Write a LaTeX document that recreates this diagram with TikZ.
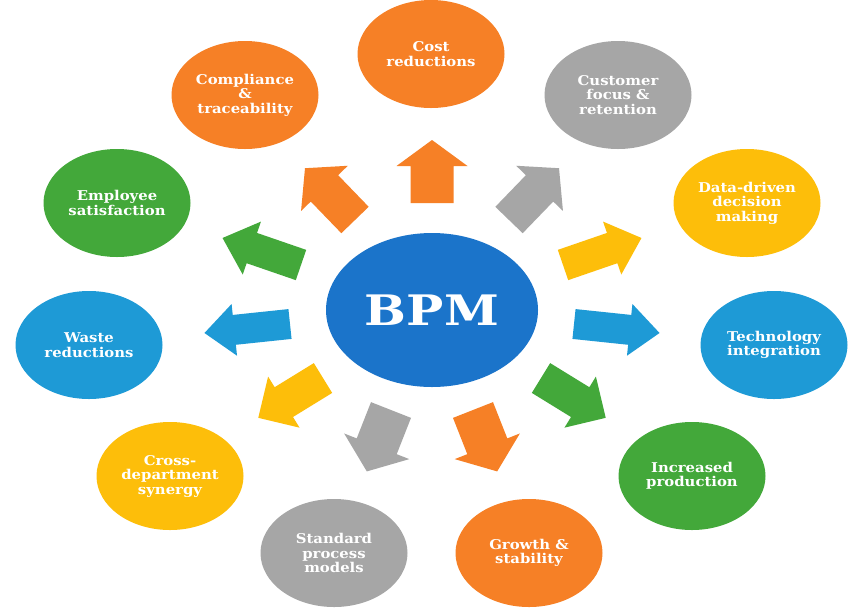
\documentclass[tikz,border=0pt]{standalone}
\usepackage{fontspec}
\setmainfont{DejaVu Serif}
\newfontfamily\bubfont[FakeStretch=1.1]{DejaVu Serif}
\newfontfamily\bpmfont[FakeStretch=1.18]{DejaVu Serif}
\usetikzlibrary{shapes.geometric}
\definecolor{corange}{RGB}{246,128,38}
\definecolor{cgray}{RGB}{166,166,166}
\definecolor{cyellow}{RGB}{253,190,10}
\definecolor{cgreen}{RGB}{67,168,58}
\definecolor{cblue}{RGB}{30,154,214}
\definecolor{cbpm}{RGB}{27,116,202}
\newcommand\blockarr[8]{% color, x, y, angle, length, shaft, headw, headlen
  \fill[#1, shift={(#2,#3)}, rotate=#4]
    (0,{-#6/2}) -- ({#5-#8},{-#6/2}) -- ({#5-#8},{-#7/2}) -- (#5,0)
    -- ({#5-#8},{#7/2}) -- ({#5-#8},{#6/2}) -- (0,{#6/2}) -- cycle;}
\tikzset{
  bub/.style={ellipse, fill=#1, minimum width=147pt, minimum height=108pt,
    inner sep=0pt, text=white, align=center,
    font=\bubfont\bfseries\fontsize{13.5}{14.5}\selectfont},
}
\begin{document}
\begin{tikzpicture}[x=1pt,y=-1pt]
\useasboundingbox (0,0) rectangle (850,611);
\fill[white] (0,0) rectangle (850,611);
% center
\node[ellipse, fill=cbpm, minimum width=212pt, minimum height=154pt, inner sep=0pt,
  text=white, font=\bpmfont\bfseries\fontsize{42}{42}\selectfont] (bpm) at (432,310) {BPM};
% outer bubbles
\node[bub=corange] (cost) at (431,54) {Cost\\reductions};
\node[bub=corange] (comp) at (245,95) {Compliance\\\&\\traceability};
\node[bub=cgray] (cust) at (618,95) {Customer\\focus \&\\retention};
\node[bub=cgreen] (emp) at (117,203) {Employee\\satisfaction};
\node[bub=cyellow] (data) at (747,203) {Data-driven\\decision\\making};
\node[bub=cblue] (waste) at (89,345) {Waste\\reductions};
\node[bub=cblue] (tech) at (774,345) {Technology\\integration};
\node[bub=cyellow] (cross) at (170,476) {Cross-\\department\\synergy};
\node[bub=cgreen] (incr) at (692,476) {Increased\\production};
\node[bub=cgray] (std) at (334,553) {Standard\\process\\models};
\node[bub=corange] (grow) at (529,553) {Growth \&\\stability};
% arrows
\blockarr{corange}{432}{203}{90}{63}{43}{71}{26}
\blockarr{corange}{355}{220}{134}{72}{38}{65}{28}
\blockarr{cgray}{509}{220}{46}{72}{38}{65}{28}
\blockarr{cgreen}{301}{265}{161}{83}{32}{56}{31}
\blockarr{cyellow}{563}{265}{19}{83}{32}{56}{31}
\blockarr{cblue}{290}{324}{186}{86}{30}{52}{30}
\blockarr{cblue}{574}{324}{-6}{86}{30}{52}{30}
\blockarr{cyellow}{323}{378}{211.6}{76}{35}{60}{30}
\blockarr{cgreen}{541}{378}{-31.6}{76}{35}{60}{30}
\blockarr{cgray}{391}{410}{248.5}{66}{43}{70}{27}
\blockarr{corange}{473}{410}{291.5}{66}{43}{70}{27}
\end{tikzpicture}
\end{document}
